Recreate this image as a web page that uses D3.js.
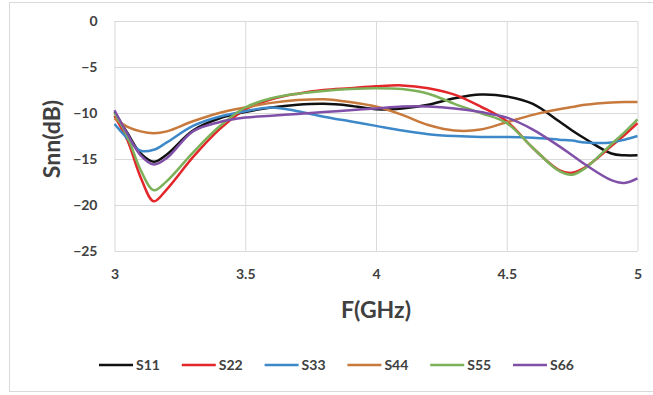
<!DOCTYPE html>
<html>
<head>
<meta charset="utf-8">
<script src="https://cdn.jsdelivr.net/npm/d3@7"></script>
<style>
  html, body { margin: 0; padding: 0; background: #fff; }
  svg { display: block; font-family: Lato, "Open Sans", sans-serif; }
</style>
</head>
<body>
<div id="chart"></div>
<script>
// frequency points (GHz)
const freqs = [3.0, 3.05, 3.1, 3.15, 3.2, 3.3, 3.4, 3.5, 3.6, 3.7, 3.8, 3.9, 4.0,
  4.1, 4.2, 4.3, 4.4, 4.5, 4.6, 4.7, 4.75, 4.8, 4.9, 4.95, 5.0];

const s11 = [-9.9, -12.2, -14.4, -15.3, -14.5, -11.9, -10.6, -9.9, -9.4, -9.1, -9.0, -9.2, -9.6,
  -9.5, -9.1, -8.4, -8.0, -8.2, -9.0, -10.9, -11.9, -12.8, -14.4, -14.6, -14.6];
const s22 = [-10.3, -13.0, -17.0, -19.6, -18.3, -14.8, -11.8, -9.6, -8.5, -7.9, -7.5, -7.3, -7.1,
  -7.0, -7.3, -8.0, -9.3, -10.9, -13.8, -16.2, -16.5, -15.9, -13.6, -12.4, -11.1];
const s33 = [-11.2, -12.8, -14.1, -14.0, -13.2, -11.4, -10.4, -9.8, -9.4, -9.8, -10.4, -10.9, -11.4,
  -11.9, -12.3, -12.5, -12.6, -12.6, -12.7, -12.9, -13.0, -13.2, -13.2, -12.9, -12.5];
const s44 = [-10.6, -11.5, -12.0, -12.2, -12.0, -10.9, -10.0, -9.4, -8.9, -8.6, -8.5, -8.8, -9.3,
  -10.2, -11.3, -11.9, -11.8, -11.0, -10.2, -9.6, -9.35, -9.1, -8.85, -8.8, -8.8];
const s55 = [-10.0, -12.6, -16.2, -18.4, -17.4, -14.3, -11.5, -9.4, -8.4, -7.9, -7.6, -7.4, -7.3,
  -7.4, -7.9, -9.0, -10.0, -11.1, -13.8, -16.3, -16.7, -16.0, -13.4, -12.1, -10.7];
const s66 = [-9.7, -12.3, -14.6, -15.6, -14.9, -12.0, -11.0, -10.5, -10.3, -10.1, -9.9, -9.7, -9.5,
  -9.3, -9.3, -9.5, -9.9, -10.5, -11.8, -13.6, -14.6, -15.6, -17.3, -17.6, -17.1];

const seriesNames = ["S11", "S22", "S33", "S44", "S55", "S66"];
const seriesValues = [s11, s22, s33, s44, s55, s66];
const seriesColors = ["#111111", "#e3262a", "#3d88c8", "#c8793c", "#7cb15a", "#8050a8"];

const xTicks = [3, 3.5, 4, 4.5, 5];
const yTicks = [0, -5, -10, -15, -20, -25];

const W = 653, H = 395;
const plot = {left: 114.5, right: 637.5, top: 21, bottom: 251};

const svg = d3.select("#chart").append("svg")
  .attr("width", W)
  .attr("height", H);

// outer chart frame
svg.append("rect")
  .attr("x", 9.5).attr("y", 2.5)
  .attr("width", W + 10).attr("height", 389)
  .attr("fill", "#fff")
  .attr("stroke", "#d9d9d9");

const x = d3.scaleLinear().domain([3, 5]).range([plot.left, plot.right]);
const y = d3.scaleLinear().domain([-25, 0]).range([plot.bottom, plot.top]);

// grid lines
svg.append("g")
  .attr("transform", `translate(0,${plot.bottom})`)
  .call(d3.axisBottom(x).tickValues(xTicks).tickSize(-(plot.bottom - plot.top)).tickFormat(""))
  .call(g => g.select(".domain").remove())
  .selectAll("line").attr("stroke", "#d9d9d9");

svg.append("g")
  .attr("transform", `translate(${plot.left},0)`)
  .call(d3.axisLeft(y).tickValues(yTicks).tickSize(-(plot.right - plot.left)).tickFormat(""))
  .call(g => g.select(".domain").remove())
  .selectAll("line").attr("stroke", "#d9d9d9");

// tick labels
svg.append("g")
  .attr("transform", `translate(0,${plot.bottom})`)
  .call(d3.axisBottom(x).tickValues(xTicks).tickSize(0).tickPadding(18).tickFormat(d3.format("")))
  .call(g => g.select(".domain").remove())
  .selectAll("text")
  .attr("fill", "#404040")
  .attr("font-size", 14)
  .attr("font-weight", "bold")
  .attr("font-family", "Lato, sans-serif");

svg.append("g")
  .attr("transform", `translate(${plot.left},0)`)
  .call(d3.axisLeft(y).tickValues(yTicks).tickSize(0).tickPadding(17).tickFormat(d3.format("")))
  .call(g => g.select(".domain").remove())
  .selectAll("text")
  .attr("fill", "#404040")
  .attr("font-size", 14)
  .attr("font-weight", "bold")
  .attr("font-family", "Lato, sans-serif");

// axis titles
svg.append("text")
  .attr("x", 376).attr("y", 318)
  .attr("text-anchor", "middle")
  .attr("fill", "#404040")
  .attr("font-size", 23)
  .attr("font-weight", "bold")
  .text("F(GHz)");

svg.append("text")
  .attr("transform", "translate(60,139) rotate(-90)")
  .attr("text-anchor", "middle")
  .attr("fill", "#404040")
  .attr("font-size", 23)
  .attr("font-weight", "bold")
  .text("Snn(dB)");

// lines
const line = d3.line()
  .x((d, i) => x(freqs[i]))
  .y(d => y(d))
  .curve(d3.curveCatmullRom.alpha(0.5));

svg.append("g")
  .selectAll("path")
  .data(seriesValues)
  .enter().append("path")
  .attr("d", d => line(d))
  .attr("fill", "none")
  .attr("stroke", (d, i) => seriesColors[i])
  .attr("stroke-width", 2.5)
  .attr("stroke-linejoin", "round");

// legend
const legend = svg.append("g")
  .attr("transform", "translate(99,365)");

const item = legend.selectAll("g")
  .data(seriesNames)
  .enter().append("g")
  .attr("transform", (d, i) => `translate(${i * 82.8},0)`);

item.append("line")
  .attr("x1", 0).attr("x2", 34)
  .attr("stroke", (d, i) => seriesColors[i])
  .attr("stroke-width", 2.5);

item.append("text")
  .attr("x", 37).attr("dy", "0.35em")
  .attr("fill", "#404040")
  .attr("font-size", 14)
  .attr("font-weight", "bold")
  .text(d => d);
</script>
</body>
</html>
